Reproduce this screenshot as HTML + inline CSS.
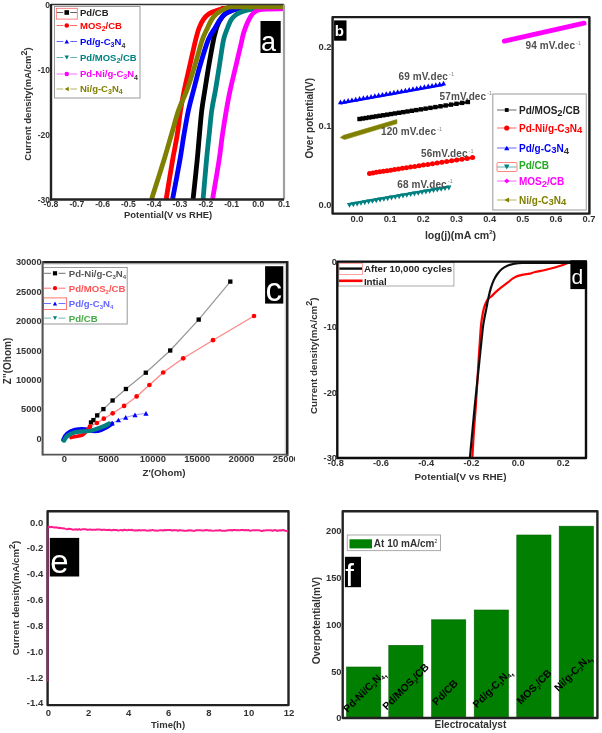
<!DOCTYPE html><html><head><meta charset="utf-8"><style>html,body{margin:0;padding:0;background:#fff;}svg{display:block}</style></head><body>
<svg width="602" height="733" viewBox="0 0 602 733" font-family="Liberation Sans">
<rect width="602" height="733" fill="#fff"/>
<defs><filter id="soft" x="0" y="0" width="100%" height="100%" filterUnits="userSpaceOnUse"><feGaussianBlur stdDeviation="0.4"/></filter></defs>
<g filter="url(#soft)">
<rect x="54.5" y="6.5" width="85.5" height="91.5" fill="#fff" stroke="#999" stroke-width="1"/>
<line x1="56.5" y1="12.5" x2="63.25" y2="12.5" stroke="#000" stroke-width="1" opacity="0.6"/>
<line x1="70.25" y1="12.5" x2="77" y2="12.5" stroke="#000" stroke-width="1" opacity="0.6"/>
<rect x="64.45" y="10.20" width="4.6" height="4.6" fill="#000"/>
<text x="80" y="15.92" font-size="9.5" font-weight="bold" fill="#222">Pd/CB</text>
<line x1="56.5" y1="25.5" x2="63.25" y2="25.5" stroke="#f00" stroke-width="1" opacity="0.6"/>
<line x1="70.25" y1="25.5" x2="77" y2="25.5" stroke="#f00" stroke-width="1" opacity="0.6"/>
<circle cx="66.75" cy="25.50" r="2.3" fill="#f00"/>
<text x="80" y="28.92" font-size="9.5" font-weight="bold" fill="#f00">MOS<tspan dy="2" font-size="7">2</tspan><tspan dy="-2">/CB</tspan></text>
<line x1="56.5" y1="41.5" x2="63.25" y2="41.5" stroke="#00f" stroke-width="1" opacity="0.6"/>
<line x1="70.25" y1="41.5" x2="77" y2="41.5" stroke="#00f" stroke-width="1" opacity="0.6"/>
<path d="M64.45 43.57L69.05 43.57L66.75 39.43Z" fill="#00f"/>
<text x="80" y="44.92" font-size="9.5" font-weight="bold" fill="#00f">Pd/g-C<tspan dy="2" font-size="7">3</tspan><tspan dy="-2">N</tspan><tspan dy="3" font-size="7" fill="#333">4</tspan></text>
<line x1="56.5" y1="57.5" x2="63.25" y2="57.5" stroke="#008080" stroke-width="1" opacity="0.6"/>
<line x1="70.25" y1="57.5" x2="77" y2="57.5" stroke="#008080" stroke-width="1" opacity="0.6"/>
<path d="M64.45 55.43L69.05 55.43L66.75 59.57Z" fill="#008080"/>
<text x="80" y="60.92" font-size="9.5" font-weight="bold" fill="#008080">Pd/MOS<tspan dy="2" font-size="7">2</tspan><tspan dy="-2">/CB</tspan></text>
<line x1="56.5" y1="74" x2="63.25" y2="74" stroke="#f0f" stroke-width="1" opacity="0.6"/>
<line x1="70.25" y1="74" x2="77" y2="74" stroke="#f0f" stroke-width="1" opacity="0.6"/>
<circle cx="66.75" cy="74.00" r="2.3" fill="#f0f"/>
<text x="80" y="77.42" font-size="9.5" font-weight="bold" fill="#f0f">Pd-Ni/g-C<tspan dy="2" font-size="7">3</tspan><tspan dy="-2">N</tspan><tspan dy="3" font-size="7" fill="#333">4</tspan></text>
<line x1="56.5" y1="89" x2="63.25" y2="89" stroke="#808000" stroke-width="1" opacity="0.6"/>
<line x1="70.25" y1="89" x2="77" y2="89" stroke="#808000" stroke-width="1" opacity="0.6"/>
<path d="M68.82 86.70L68.82 91.30L64.68 89.00Z" fill="#808000"/>
<text x="80" y="92.42" font-size="9.5" font-weight="bold" fill="#808000">Ni/g-C<tspan dy="2" font-size="7">3</tspan><tspan dy="-2">N<tspan dy="2" font-size="7">4</tspan><tspan dy="-2"></tspan></tspan></text>
<rect x="56.3" y="8.3" width="21" height="10.8" fill="none" stroke="#f66" stroke-width="0.8"/>
<path d="M284.00 8.50 C277.50 8.55 252.78 8.68 245.00 8.80 C237.22 8.92 239.48 8.90 237.30 9.20 C235.12 9.50 233.90 9.82 231.90 10.60 C229.90 11.38 227.23 12.38 225.30 13.90 C223.37 15.42 221.72 17.52 220.30 19.70 C218.88 21.88 217.58 25.03 216.80 27.00 C216.02 28.97 216.15 29.33 215.60 31.50 C215.05 33.67 214.62 34.42 213.50 40.00 C212.38 45.58 210.33 56.67 208.90 65.00 C207.47 73.33 206.08 82.50 204.90 90.00 C203.72 97.50 202.72 102.50 201.80 110.00 C200.88 117.50 200.17 126.67 199.40 135.00 C198.63 143.33 198.25 149.33 197.20 160.00 C196.15 170.67 193.78 192.50 193.10 199.00" fill="none" stroke="#000" stroke-width="4.8" stroke-linejoin="round"/>
<path d="M284.00 8.00 C274.67 8.03 238.27 8.07 228.00 8.20 C217.73 8.33 224.30 8.42 222.40 8.80 C220.50 9.18 218.83 9.67 216.60 10.50 C214.37 11.33 211.22 12.28 209.00 13.80 C206.78 15.32 204.95 17.23 203.30 19.60 C201.65 21.97 200.38 24.60 199.10 28.00 C197.82 31.40 197.13 33.83 195.60 40.00 C194.07 46.17 191.78 56.67 189.90 65.00 C188.02 73.33 185.85 82.50 184.30 90.00 C182.75 97.50 181.78 102.50 180.60 110.00 C179.42 117.50 178.53 126.67 177.20 135.00 C175.87 143.33 174.43 149.33 172.60 160.00 C170.77 170.67 167.27 192.50 166.20 199.00" fill="none" stroke="#f00" stroke-width="4.8" stroke-linejoin="round"/>
<path d="M284.00 8.50 C277.00 8.53 249.83 8.62 242.00 8.70 C234.17 8.78 238.73 8.70 237.00 9.00 C235.27 9.30 233.60 9.70 231.60 10.50 C229.60 11.30 226.93 12.28 225.00 13.80 C223.07 15.32 221.67 17.23 220.00 19.60 C218.33 21.97 216.97 24.60 215.00 28.00 C213.03 31.40 210.67 33.83 208.20 40.00 C205.73 46.17 202.63 56.67 200.20 65.00 C197.77 73.33 195.55 82.50 193.60 90.00 C191.65 97.50 190.12 102.50 188.50 110.00 C186.88 117.50 185.33 126.67 183.90 135.00 C182.47 143.33 181.78 149.33 179.90 160.00 C178.02 170.67 173.82 192.50 172.60 199.00" fill="none" stroke="#00f" stroke-width="4.8" stroke-linejoin="round"/>
<path d="M284.00 8.50 C280.00 8.53 265.17 8.58 260.00 8.70 C254.83 8.82 255.33 8.90 253.00 9.20 C250.67 9.50 248.17 9.95 246.00 10.50 C243.83 11.05 241.83 11.67 240.00 12.50 C238.17 13.33 236.50 14.25 235.00 15.50 C233.50 16.75 232.25 17.92 231.00 20.00 C229.75 22.08 228.75 24.67 227.50 28.00 C226.25 31.33 224.83 33.83 223.50 40.00 C222.17 46.17 220.83 56.67 219.50 65.00 C218.17 73.33 216.78 82.50 215.50 90.00 C214.22 97.50 212.87 102.50 211.80 110.00 C210.73 117.50 209.98 126.67 209.10 135.00 C208.22 143.33 207.50 149.33 206.50 160.00 C205.50 170.67 203.67 192.50 203.10 199.00" fill="none" stroke="#008080" stroke-width="4.8" stroke-linejoin="round"/>
<path d="M284.00 8.70 C281.00 8.75 270.25 8.78 266.00 9.00 C261.75 9.22 260.50 9.42 258.50 10.00 C256.50 10.58 255.28 11.45 254.00 12.50 C252.72 13.55 251.92 14.55 250.80 16.30 C249.68 18.05 248.50 20.22 247.30 23.00 C246.10 25.78 244.57 29.83 243.60 33.00 C242.63 36.17 242.75 36.67 241.50 42.00 C240.25 47.33 237.98 57.00 236.10 65.00 C234.22 73.00 231.82 82.50 230.20 90.00 C228.58 97.50 227.70 102.50 226.40 110.00 C225.10 117.50 223.62 126.67 222.40 135.00 C221.18 143.33 220.73 149.33 219.10 160.00 C217.47 170.67 213.68 192.50 212.60 199.00" fill="none" stroke="#f0f" stroke-width="4.8" stroke-linejoin="round"/>
<path d="M284.00 6.80 C275.67 6.80 243.17 6.77 234.00 6.80 C224.83 6.83 230.93 6.47 229.00 7.00 C227.07 7.53 224.47 8.87 222.40 10.00 C220.33 11.13 218.40 12.20 216.60 13.80 C214.80 15.40 213.12 17.23 211.60 19.60 C210.08 21.97 209.07 24.60 207.50 28.00 C205.93 31.40 204.28 33.83 202.20 40.00 C200.12 46.17 197.53 56.67 195.00 65.00 C192.47 73.33 189.73 82.50 187.00 90.00 C184.27 97.50 181.22 102.50 178.60 110.00 C175.98 117.50 173.73 126.67 171.30 135.00 C168.87 143.33 167.28 149.33 164.00 160.00 C160.72 170.67 153.67 192.50 151.60 199.00" fill="none" stroke="#808000" stroke-width="4.8" stroke-linejoin="round"/>
<line x1="51" y1="4.5" x2="284" y2="4.5" stroke="#333" stroke-width="1.6"/>
<line x1="284" y1="4.5" x2="284" y2="199.5" stroke="#a0a0a0" stroke-width="2.2"/>
<line x1="51" y1="4" x2="51" y2="200.5" stroke="#222" stroke-width="2.4"/>
<line x1="50" y1="199.5" x2="284" y2="199.5" stroke="#222" stroke-width="2.4"/>
<rect x="260.5" y="21" width="20.19999999999999" height="32" fill="#000"/>
<text x="261.0" y="51.0" font-size="27" font-weight="normal" fill="#fff" font-family="Liberation Sans">a</text>
<text x="51.0" y="207.3" font-size="8.6" font-weight="bold" fill="#333" text-anchor="middle" >-0.8</text>
<text x="76.8" y="207.3" font-size="8.6" font-weight="bold" fill="#333" text-anchor="middle" >-0.7</text>
<text x="102.6" y="207.3" font-size="8.6" font-weight="bold" fill="#333" text-anchor="middle" >-0.6</text>
<text x="128.4" y="207.3" font-size="8.6" font-weight="bold" fill="#333" text-anchor="middle" >-0.5</text>
<text x="154.2" y="207.3" font-size="8.6" font-weight="bold" fill="#333" text-anchor="middle" >-0.4</text>
<text x="180.0" y="207.3" font-size="8.6" font-weight="bold" fill="#333" text-anchor="middle" >-0.3</text>
<text x="205.8" y="207.3" font-size="8.6" font-weight="bold" fill="#333" text-anchor="middle" >-0.2</text>
<text x="231.6" y="207.3" font-size="8.6" font-weight="bold" fill="#333" text-anchor="middle" >-0.1</text>
<text x="258.2" y="207.3" font-size="8.6" font-weight="bold" fill="#333" text-anchor="middle" >0.0</text>
<text x="284.00000000000006" y="207.3" font-size="8.6" font-weight="bold" fill="#333" text-anchor="middle" >0.1</text>
<text x="50" y="7.5" font-size="8.5" font-weight="bold" fill="#333" text-anchor="end" >0</text>
<text x="50" y="72.5" font-size="8.5" font-weight="bold" fill="#333" text-anchor="end" >-10</text>
<text x="50" y="137.5" font-size="8.5" font-weight="bold" fill="#333" text-anchor="end" >-20</text>
<text x="50" y="202.5" font-size="8.5" font-weight="bold" fill="#333" text-anchor="end" >-30</text>
<text x="168.1" y="217.6" font-size="9.45" font-weight="bold" fill="#333" text-anchor="middle" >Potential(V vs RHE)</text>
<text x="0" y="0" font-size="9.5" font-weight="bold" fill="#333" text-anchor="middle" transform="translate(31.3 104) rotate(-90)">Current density(mA/cm<tspan dy="-4.5" font-size="9">2</tspan><tspan dy="4.5">)</tspan></text>
<path d="M504.3 41.1 L584.1 23.2" stroke="#f0f" stroke-width="4.8" stroke-linecap="round"/>
<path d="M340.5 103.4 L443.5 84.8" stroke="#00f" stroke-width="2.2"/>
<path d="M337.90 104.14L343.10 104.14L340.50 99.46Z" fill="#00f"/><path d="M341.71 103.45L346.91 103.45L344.31 98.77Z" fill="#00f"/><path d="M345.53 102.76L350.73 102.76L348.13 98.08Z" fill="#00f"/><path d="M349.34 102.07L354.54 102.07L351.94 97.39Z" fill="#00f"/><path d="M353.16 101.38L358.36 101.38L355.76 96.70Z" fill="#00f"/><path d="M356.97 100.70L362.17 100.70L359.57 96.02Z" fill="#00f"/><path d="M360.79 100.01L365.99 100.01L363.39 95.33Z" fill="#00f"/><path d="M364.60 99.32L369.80 99.32L367.20 94.64Z" fill="#00f"/><path d="M368.42 98.63L373.62 98.63L371.02 93.95Z" fill="#00f"/><path d="M372.23 97.94L377.43 97.94L374.83 93.26Z" fill="#00f"/><path d="M376.05 97.25L381.25 97.25L378.65 92.57Z" fill="#00f"/><path d="M379.86 96.56L385.06 96.56L382.46 91.88Z" fill="#00f"/><path d="M383.68 95.87L388.88 95.87L386.28 91.19Z" fill="#00f"/><path d="M387.49 95.18L392.69 95.18L390.09 90.50Z" fill="#00f"/><path d="M391.31 94.50L396.51 94.50L393.91 89.82Z" fill="#00f"/><path d="M395.12 93.81L400.32 93.81L397.72 89.13Z" fill="#00f"/><path d="M398.94 93.12L404.14 93.12L401.54 88.44Z" fill="#00f"/><path d="M402.75 92.43L407.95 92.43L405.35 87.75Z" fill="#00f"/><path d="M406.57 91.74L411.77 91.74L409.17 87.06Z" fill="#00f"/><path d="M410.38 91.05L415.58 91.05L412.98 86.37Z" fill="#00f"/><path d="M414.20 90.36L419.40 90.36L416.80 85.68Z" fill="#00f"/><path d="M418.01 89.67L423.21 89.67L420.61 84.99Z" fill="#00f"/><path d="M421.83 88.98L427.03 88.98L424.43 84.30Z" fill="#00f"/><path d="M425.64 88.30L430.84 88.30L428.24 83.62Z" fill="#00f"/><path d="M429.46 87.61L434.66 87.61L432.06 82.93Z" fill="#00f"/><path d="M433.27 86.92L438.47 86.92L435.87 82.24Z" fill="#00f"/><path d="M437.09 86.23L442.29 86.23L439.69 81.55Z" fill="#00f"/><path d="M440.90 85.54L446.10 85.54L443.50 80.86Z" fill="#00f"/>
<path d="M358.7 119.3 L469.5 101.9" stroke="#000" stroke-width="2.4"/>
<rect x="357.30" y="116.80" width="4.4" height="4.4" fill="#000"/><rect x="360.46" y="116.30" width="4.4" height="4.4" fill="#000"/><rect x="363.70" y="115.79" width="4.4" height="4.4" fill="#000"/><rect x="367.03" y="115.27" width="4.4" height="4.4" fill="#000"/><rect x="370.43" y="114.74" width="4.4" height="4.4" fill="#000"/><rect x="373.93" y="114.19" width="4.4" height="4.4" fill="#000"/><rect x="377.51" y="113.63" width="4.4" height="4.4" fill="#000"/><rect x="381.18" y="113.05" width="4.4" height="4.4" fill="#000"/><rect x="384.94" y="112.46" width="4.4" height="4.4" fill="#000"/><rect x="388.80" y="111.85" width="4.4" height="4.4" fill="#000"/><rect x="392.76" y="111.23" width="4.4" height="4.4" fill="#000"/><rect x="396.82" y="110.59" width="4.4" height="4.4" fill="#000"/><rect x="400.98" y="109.94" width="4.4" height="4.4" fill="#000"/><rect x="405.24" y="109.27" width="4.4" height="4.4" fill="#000"/><rect x="409.61" y="108.58" width="4.4" height="4.4" fill="#000"/><rect x="414.09" y="107.88" width="4.4" height="4.4" fill="#000"/><rect x="418.69" y="107.16" width="4.4" height="4.4" fill="#000"/><rect x="423.40" y="106.42" width="4.4" height="4.4" fill="#000"/><rect x="428.23" y="105.66" width="4.4" height="4.4" fill="#000"/><rect x="433.19" y="104.88" width="4.4" height="4.4" fill="#000"/><rect x="438.27" y="104.08" width="4.4" height="4.4" fill="#000"/><rect x="443.47" y="103.26" width="4.4" height="4.4" fill="#000"/><rect x="448.81" y="102.43" width="4.4" height="4.4" fill="#000"/><rect x="454.28" y="101.57" width="4.4" height="4.4" fill="#000"/><rect x="459.89" y="100.68" width="4.4" height="4.4" fill="#000"/><rect x="465.65" y="99.78" width="4.4" height="4.4" fill="#000"/>
<path d="M340.3 137.6 L343.5 135.3 L396.8 119.6 L397 123.6 L344.5 139.6 Z" fill="#808000" stroke="#808000" stroke-width="0.6" stroke-linejoin="round"/>
<path d="M369.5 173.4 L475 157.2" stroke="#f00" stroke-width="2.4"/>
<circle cx="369.50" cy="173.40" r="2.5" fill="#f00"/><circle cx="372.86" cy="172.88" r="2.5" fill="#f00"/><circle cx="376.29" cy="172.36" r="2.5" fill="#f00"/><circle cx="379.79" cy="171.82" r="2.5" fill="#f00"/><circle cx="383.36" cy="171.27" r="2.5" fill="#f00"/><circle cx="387.01" cy="170.71" r="2.5" fill="#f00"/><circle cx="390.73" cy="170.14" r="2.5" fill="#f00"/><circle cx="394.53" cy="169.56" r="2.5" fill="#f00"/><circle cx="398.41" cy="168.96" r="2.5" fill="#f00"/><circle cx="402.36" cy="168.35" r="2.5" fill="#f00"/><circle cx="406.40" cy="167.73" r="2.5" fill="#f00"/><circle cx="410.52" cy="167.10" r="2.5" fill="#f00"/><circle cx="414.73" cy="166.46" r="2.5" fill="#f00"/><circle cx="419.02" cy="165.80" r="2.5" fill="#f00"/><circle cx="423.40" cy="165.12" r="2.5" fill="#f00"/><circle cx="427.87" cy="164.44" r="2.5" fill="#f00"/><circle cx="432.44" cy="163.74" r="2.5" fill="#f00"/><circle cx="437.10" cy="163.02" r="2.5" fill="#f00"/><circle cx="441.85" cy="162.29" r="2.5" fill="#f00"/><circle cx="446.70" cy="161.55" r="2.5" fill="#f00"/><circle cx="451.65" cy="160.79" r="2.5" fill="#f00"/><circle cx="456.71" cy="160.01" r="2.5" fill="#f00"/><circle cx="461.87" cy="159.22" r="2.5" fill="#f00"/><circle cx="467.13" cy="158.41" r="2.5" fill="#f00"/><circle cx="472.50" cy="157.58" r="2.5" fill="#f00"/>
<path d="M349.5 203.8 L448.8 186.6" stroke="#008080" stroke-width="2.2"/>
<path d="M346.80 202.97L352.20 202.97L349.50 207.83Z" fill="#008080"/><path d="M350.62 202.30L356.02 202.30L353.32 207.16Z" fill="#008080"/><path d="M354.44 201.63L359.84 201.63L357.14 206.49Z" fill="#008080"/><path d="M358.26 200.96L363.66 200.96L360.96 205.82Z" fill="#008080"/><path d="M362.08 200.29L367.48 200.29L364.78 205.15Z" fill="#008080"/><path d="M365.90 199.62L371.30 199.62L368.60 204.48Z" fill="#008080"/><path d="M369.72 198.95L375.12 198.95L372.42 203.81Z" fill="#008080"/><path d="M373.53 198.29L378.93 198.29L376.23 203.15Z" fill="#008080"/><path d="M377.35 197.62L382.75 197.62L380.05 202.48Z" fill="#008080"/><path d="M381.17 196.95L386.57 196.95L383.87 201.81Z" fill="#008080"/><path d="M384.99 196.28L390.39 196.28L387.69 201.14Z" fill="#008080"/><path d="M388.81 195.61L394.21 195.61L391.51 200.47Z" fill="#008080"/><path d="M392.63 194.94L398.03 194.94L395.33 199.80Z" fill="#008080"/><path d="M396.45 194.27L401.85 194.27L399.15 199.13Z" fill="#008080"/><path d="M400.27 193.60L405.67 193.60L402.97 198.46Z" fill="#008080"/><path d="M404.09 192.93L409.49 192.93L406.79 197.79Z" fill="#008080"/><path d="M407.91 192.26L413.31 192.26L410.61 197.12Z" fill="#008080"/><path d="M411.73 191.59L417.13 191.59L414.43 196.45Z" fill="#008080"/><path d="M415.55 190.92L420.95 190.92L418.25 195.78Z" fill="#008080"/><path d="M419.37 190.25L424.77 190.25L422.07 195.11Z" fill="#008080"/><path d="M423.18 189.59L428.58 189.59L425.88 194.45Z" fill="#008080"/><path d="M427.00 188.92L432.40 188.92L429.70 193.78Z" fill="#008080"/><path d="M430.82 188.25L436.22 188.25L433.52 193.11Z" fill="#008080"/><path d="M434.64 187.58L440.04 187.58L437.34 192.44Z" fill="#008080"/><path d="M438.46 186.91L443.86 186.91L441.16 191.77Z" fill="#008080"/><path d="M442.28 186.24L447.68 186.24L444.98 191.10Z" fill="#008080"/><path d="M446.10 185.57L451.50 185.57L448.80 190.43Z" fill="#008080"/>
<text x="525.6" y="49.2" font-size="10" font-weight="bold" fill="#505050" letter-spacing="0.1">94 mV.dec<tspan dx="1" dy="-4.5" font-size="5.5" font-weight="normal" fill="#888">-1</tspan></text>
<text x="398.5" y="80.0" font-size="10" font-weight="bold" fill="#505050" letter-spacing="0.1">69 mV.dec<tspan dx="1" dy="-4.5" font-size="5.5" font-weight="normal" fill="#888">-1</tspan></text>
<text x="439.6" y="99.5" font-size="10" font-weight="bold" fill="#505050" letter-spacing="0.1">57mV.dec<tspan dx="1" dy="-4.5" font-size="5.5" font-weight="normal" fill="#888">-1</tspan></text>
<text x="381" y="135.0" font-size="10" font-weight="bold" fill="#505050" letter-spacing="0.1">120 mV.dec<tspan dx="1" dy="-4.5" font-size="5.5" font-weight="normal" fill="#888">-1</tspan></text>
<text x="421" y="157.0" font-size="10" font-weight="bold" fill="#505050" letter-spacing="0.1">56mV.dec<tspan dx="1" dy="-4.5" font-size="5.5" font-weight="normal" fill="#888">-1</tspan></text>
<text x="397.3" y="187.5" font-size="10" font-weight="bold" fill="#505050" letter-spacing="0.1">68 mV.dec<tspan dx="1" dy="-4.5" font-size="5.5" font-weight="normal" fill="#888">-1</tspan></text>
<rect x="492.8" y="94" width="93.5" height="116" fill="#fff" stroke="#aaa" stroke-width="1.2"/>
<line x1="497" y1="110" x2="516.5" y2="110" stroke="#000" stroke-width="1" opacity="0.6"/>
<rect x="504.85" y="108.10" width="3.8" height="3.8" fill="#000"/>
<text x="519" y="113.60" font-size="10" font-weight="bold" fill="#222">Pd/MOS<tspan dy="2.5" font-size="9.5">2</tspan><tspan dy="-2.5">/CB</tspan></text>
<line x1="497" y1="128" x2="516.5" y2="128" stroke="#f00" stroke-width="1" opacity="0.6"/>
<circle cx="506.75" cy="128.00" r="2.6" fill="#f00"/>
<text x="519" y="131.60" font-size="10" font-weight="bold" fill="#f00">Pd-Ni/g-C<tspan dy="1.5" font-size="9.5">3</tspan><tspan dy="-1.5">N<tspan dy="1.5" font-size="9.5">4</tspan><tspan dy="-1.5"></tspan></tspan></text>
<line x1="497" y1="148" x2="516.5" y2="148" stroke="#00f" stroke-width="1" opacity="0.6"/>
<path d="M504.15 150.34L509.35 150.34L506.75 145.66Z" fill="#00f"/>
<text x="519" y="151.60" font-size="10" font-weight="bold" fill="#00f">Pd/g-C<tspan dy="1.5" font-size="9.5">3</tspan><tspan dy="-1.5">N</tspan><tspan dy="2.5" font-size="9.5" fill="#333">4</tspan></text>
<line x1="497" y1="167" x2="516.5" y2="167" stroke="#008080" stroke-width="1" opacity="0.6"/>
<path d="M504.00 164.53L509.50 164.53L506.75 169.47Z" fill="#008080"/>
<text x="519" y="170.60" font-size="10" font-weight="bold" fill="#2a2"></text>
<text x="519" y="169" font-size="10" font-weight="bold" fill="#2a2">Pd/CB</text>
<line x1="497" y1="181" x2="516.5" y2="181" stroke="#f0f" stroke-width="1" opacity="0.6"/>
<path d="M504.15 181.00L506.75 178.40L509.35 181.00L506.75 183.60Z" fill="#f0f"/>
<text x="519" y="184.60" font-size="10" font-weight="bold" fill="#f0f">MOS<tspan dy="2.5" font-size="9.5">2</tspan><tspan dy="-2.5">/CB</tspan></text>
<line x1="497" y1="200" x2="516.5" y2="200" stroke="#808000" stroke-width="1" opacity="0.6"/>
<path d="M509.09 197.40L509.09 202.60L504.41 200.00Z" fill="#808000"/>
<text x="519" y="203.60" font-size="10" font-weight="bold" fill="#808000">Ni/g-C<tspan dy="1.5" font-size="9.5">3</tspan><tspan dy="-1.5">N<tspan dy="1.5" font-size="9.5">4</tspan><tspan dy="-1.5"></tspan></tspan></text>
<rect x="497" y="162.5" width="20" height="9" fill="none" stroke="#f77" stroke-width="0.9" rx="1"/>
<rect x="332.6" y="17.1" width="256.79999999999995" height="196.5" fill="none" stroke="#1a1a1a" stroke-width="2.4" stroke-linejoin="round"/>
<rect x="334.1" y="20.4" width="12.399999999999977" height="20.300000000000004" fill="#000"/>
<text x="334.8" y="35.7" font-size="15" font-weight="bold" fill="#fff" font-family="Liberation Sans">b</text>
<text x="357.0" y="222" font-size="9.3" font-weight="bold" fill="#333" text-anchor="middle" >0.0</text>
<text x="390.15" y="222" font-size="9.3" font-weight="bold" fill="#333" text-anchor="middle" >0.1</text>
<text x="423.3" y="222" font-size="9.3" font-weight="bold" fill="#333" text-anchor="middle" >0.2</text>
<text x="456.45" y="222" font-size="9.3" font-weight="bold" fill="#333" text-anchor="middle" >0.3</text>
<text x="489.6" y="222" font-size="9.3" font-weight="bold" fill="#333" text-anchor="middle" >0.4</text>
<text x="522.75" y="222" font-size="9.3" font-weight="bold" fill="#333" text-anchor="middle" >0.5</text>
<text x="555.9" y="222" font-size="9.3" font-weight="bold" fill="#333" text-anchor="middle" >0.6</text>
<text x="589.05" y="222" font-size="9.3" font-weight="bold" fill="#333" text-anchor="middle" >0.7</text>
<text x="331.5" y="208.1" font-size="9.4" font-weight="bold" fill="#333" text-anchor="end" >0.0</text>
<text x="331.5" y="129.1" font-size="9.4" font-weight="bold" fill="#333" text-anchor="end" >0.1</text>
<text x="331.5" y="50.1" font-size="9.4" font-weight="bold" fill="#333" text-anchor="end" >0.2</text>
<text x="460.5" y="238.6" font-size="10.6" font-weight="bold" fill="#333" text-anchor="middle">log(j)(mA cm<tspan dy="-4.5" font-size="6">2</tspan><tspan dy="4.5">)</tspan></text>
<text x="0" y="0" font-size="10" font-weight="bold" fill="#333" text-anchor="middle" transform="translate(312.5 118.2) rotate(-90)">Over potential(V)</text>
<polyline points="230.3,281.6 198.7,319.6 170.2,350.5 145.8,372.7 125.9,389 112.6,400.5 103.4,409.1 97.2,415.4 93.4,420.1 91,422.4" fill="none" stroke="#999" stroke-width="1.3"/>
<polyline points="254,316 213,340.2 183.2,358.3 163.2,372.5 149.4,385 136.6,396.4 124.1,405.9 112.7,413.3 103.8,418.7 96.9,423 90,426.5" fill="none" stroke="#f88" stroke-width="1.3"/>
<polyline points="146,413.3 135,414.9 125.7,417.4 118.4,420 112.2,423.2" fill="none" stroke="#99f" stroke-width="1"/>
<path d="M63.2 439.8 C64.8 435 68.5 431.5 75 429.8 C80 428.7 85 428.8 89 430 C93 431.5 97 431.5 101 430 C105 428.5 108.5 426.5 112 423.6" fill="none" stroke="#00f" stroke-width="4.2" stroke-linecap="round"/>
<path d="M71 437.6 C75 436.6 79 436.1 82.5 435 C85.5 433.2 88 429.5 90 426.5" fill="none" stroke="#f00" stroke-width="3.6" stroke-linecap="round"/>
<path d="M64 440.6 C65.5 436.8 69.5 433.6 76 432.2 C82 431.2 88 431.6 92 430.5 C97 429 102 427.2 105 425.8 C107 424.8 108 424.2 109 423.6" fill="none" stroke="#008080" stroke-width="4.4" stroke-linecap="round"/>
<rect x="228.15" y="279.45" width="4.3" height="4.3" fill="#000"/>
<rect x="196.55" y="317.45" width="4.3" height="4.3" fill="#000"/>
<rect x="168.05" y="348.35" width="4.3" height="4.3" fill="#000"/>
<rect x="143.65" y="370.55" width="4.3" height="4.3" fill="#000"/>
<rect x="123.75" y="386.85" width="4.3" height="4.3" fill="#000"/>
<rect x="110.45" y="398.35" width="4.3" height="4.3" fill="#000"/>
<rect x="101.25" y="406.95" width="4.3" height="4.3" fill="#000"/>
<rect x="95.05" y="413.25" width="4.3" height="4.3" fill="#000"/>
<rect x="91.25" y="417.95" width="4.3" height="4.3" fill="#000"/>
<rect x="88.85" y="420.25" width="4.3" height="4.3" fill="#000"/>
<circle cx="254.00" cy="316.00" r="2.35" fill="#f00"/>
<circle cx="213.00" cy="340.20" r="2.35" fill="#f00"/>
<circle cx="183.20" cy="358.30" r="2.35" fill="#f00"/>
<circle cx="163.20" cy="372.50" r="2.35" fill="#f00"/>
<circle cx="149.40" cy="385.00" r="2.35" fill="#f00"/>
<circle cx="136.60" cy="396.40" r="2.35" fill="#f00"/>
<circle cx="124.10" cy="405.90" r="2.35" fill="#f00"/>
<circle cx="112.70" cy="413.30" r="2.35" fill="#f00"/>
<circle cx="103.80" cy="418.70" r="2.35" fill="#f00"/>
<circle cx="96.90" cy="423.00" r="2.35" fill="#f00"/>
<circle cx="90.00" cy="426.50" r="2.35" fill="#f00"/>
<path d="M143.40 415.64L148.60 415.64L146.00 410.96Z" fill="#00f"/>
<path d="M132.40 417.24L137.60 417.24L135.00 412.56Z" fill="#00f"/>
<path d="M123.10 419.74L128.30 419.74L125.70 415.06Z" fill="#00f"/>
<path d="M115.80 422.34L121.00 422.34L118.40 417.66Z" fill="#00f"/>
<path d="M109.60 425.54L114.80 425.54L112.20 420.86Z" fill="#00f"/>
<rect x="43" y="267.5" width="84.2" height="56.5" fill="#fff" stroke="#999" stroke-width="1"/>
<line x1="44" y1="273.3" x2="51" y2="273.3" stroke="#000" stroke-width="0.8" opacity="0.7"/>
<line x1="58.5" y1="273.3" x2="65.5" y2="273.3" stroke="#000" stroke-width="0.8" opacity="0.7"/>
<rect x="52.90" y="271.20" width="4.2" height="4.2" fill="#000"/>
<text x="68.8" y="276.7" font-size="9.6" font-weight="bold" fill="#555">Pd-Ni/g-C<tspan dy="2" font-size="6">3</tspan><tspan dy="-2">N<tspan dy="2" font-size="6">4</tspan><tspan dy="-2"></tspan></tspan></text>
<line x1="44" y1="288.2" x2="51" y2="288.2" stroke="#f00" stroke-width="0.8" opacity="0.7"/>
<line x1="58.5" y1="288.2" x2="65.5" y2="288.2" stroke="#f00" stroke-width="0.8" opacity="0.7"/>
<circle cx="55.00" cy="288.20" r="2.1" fill="#f00"/>
<text x="68.8" y="291.59999999999997" font-size="9.6" font-weight="bold" fill="#f55">Pd/MOS<tspan dy="2" font-size="6">2</tspan><tspan dy="-2">/CB</tspan></text>
<line x1="44" y1="303.5" x2="51" y2="303.5" stroke="#00f" stroke-width="0.8" opacity="0.7"/>
<line x1="58.5" y1="303.5" x2="65.5" y2="303.5" stroke="#00f" stroke-width="0.8" opacity="0.7"/>
<path d="M52.90 305.39L57.10 305.39L55.00 301.61Z" fill="#00f"/>
<text x="68.8" y="306.9" font-size="9.6" font-weight="bold" fill="#66f">Pd/g-C<tspan dy="2" font-size="6">3</tspan><tspan dy="-2">N<tspan dy="2" font-size="6">4</tspan><tspan dy="-2"></tspan></tspan></text>
<line x1="44" y1="318.1" x2="51" y2="318.1" stroke="#008080" stroke-width="0.8" opacity="0.7"/>
<line x1="58.5" y1="318.1" x2="65.5" y2="318.1" stroke="#008080" stroke-width="0.8" opacity="0.7"/>
<path d="M52.90 316.21L57.10 316.21L55.00 319.99Z" fill="#008080"/>
<text x="68.8" y="321.5" font-size="9.6" font-weight="bold" fill="#4a4">Pd/CB</text>
<rect x="43.6" y="297.9" width="23" height="11.6" fill="none" stroke="#f66" stroke-width="0.9"/>
<line x1="42.7" y1="262.2" x2="286.6" y2="262.2" stroke="#222" stroke-width="2.4"/>
<line x1="287.2" y1="261" x2="287.2" y2="455.8" stroke="#222" stroke-width="2.6"/>
<line x1="285.2" y1="263.8" x2="285.2" y2="454" stroke="#bbb" stroke-width="0.8"/>
<line x1="43" y1="264.2" x2="286" y2="264.2" stroke="#ccc" stroke-width="0.8"/>
<line x1="42.7" y1="454.6" x2="287.8" y2="454.6" stroke="#555" stroke-width="1.7"/>
<line x1="42.6" y1="261" x2="42.6" y2="455.5" stroke="#555" stroke-width="2.1"/>
<rect x="265.1" y="266.2" width="18.19999999999999" height="37.400000000000034" fill="#000"/>
<text x="265.6" y="300.8" font-size="33" font-weight="normal" fill="#fff" font-family="Liberation Sans">c</text>
<clipPath id="cc"><rect x="0" y="440" width="295" height="40"/></clipPath>
<text x="285.8" y="462.2" font-size="9.4" font-weight="bold" fill="#333" text-anchor="middle" clip-path="url(#cc)">25000</text>
<text x="64.3" y="462.2" font-size="9.4" font-weight="bold" fill="#333" text-anchor="middle" >0</text>
<text x="108.6" y="462.2" font-size="9.4" font-weight="bold" fill="#333" text-anchor="middle" >5000</text>
<text x="152.89999999999998" y="462.2" font-size="9.4" font-weight="bold" fill="#333" text-anchor="middle" >10000</text>
<text x="197.2" y="462.2" font-size="9.4" font-weight="bold" fill="#333" text-anchor="middle" >15000</text>
<text x="241.5" y="462.2" font-size="9.4" font-weight="bold" fill="#333" text-anchor="middle" >20000</text>
<text x="41.5" y="441.7" font-size="9.2" font-weight="bold" fill="#333" text-anchor="end" >0</text>
<text x="41.5" y="412.3" font-size="9.2" font-weight="bold" fill="#333" text-anchor="end" >5000</text>
<text x="41.5" y="382.9" font-size="9.2" font-weight="bold" fill="#333" text-anchor="end" >10000</text>
<text x="41.5" y="353.5" font-size="9.2" font-weight="bold" fill="#333" text-anchor="end" >15000</text>
<text x="41.5" y="324.09999999999997" font-size="9.2" font-weight="bold" fill="#333" text-anchor="end" >20000</text>
<text x="41.5" y="294.7" font-size="9.2" font-weight="bold" fill="#333" text-anchor="end" >25000</text>
<text x="41.5" y="265.3" font-size="9.2" font-weight="bold" fill="#333" text-anchor="end" >30000</text>
<text x="164" y="476.3" font-size="9.8" font-weight="bold" fill="#333" text-anchor="middle" >Z'(Ohom)</text>
<text x="0" y="0" font-size="10" font-weight="bold" fill="#333" text-anchor="middle" transform="translate(11.2 361) rotate(-90)">Z''(Ohom)</text>
<path d="M472.30 458.00 C472.58 453.33 473.38 439.05 474.00 430.00 C474.62 420.95 475.28 414.53 476.00 403.70 C476.72 392.87 477.53 377.28 478.30 365.00 C479.07 352.72 479.98 337.87 480.60 330.00 C481.22 322.13 481.43 321.48 482.00 317.80 C482.57 314.12 483.10 310.88 484.00 307.90 C484.90 304.92 486.25 301.75 487.40 299.90 C488.55 298.05 489.48 298.13 490.90 296.80 C492.32 295.47 494.07 293.55 495.90 291.90 C497.73 290.25 499.90 288.48 501.90 286.90 C503.90 285.32 506.07 283.82 507.90 282.40 C509.73 280.98 511.23 279.48 512.90 278.40 C514.57 277.32 516.08 276.55 517.90 275.90 C519.72 275.25 521.82 274.88 523.80 274.50 C525.78 274.12 527.93 274.02 529.80 273.60 C531.67 273.18 532.47 272.60 535.00 272.00 C537.53 271.40 541.68 270.75 545.00 270.00 C548.32 269.25 551.92 268.33 554.90 267.50 C557.88 266.67 560.73 265.75 562.90 265.00 C565.07 264.25 566.72 263.53 567.90 263.00 C569.08 262.47 569.65 262.00 570.00 261.80" fill="none" stroke="#f00" stroke-width="2.2"/>
<path d="M469.90 458.00 C470.33 453.33 471.65 439.05 472.50 430.00 C473.35 420.95 473.92 414.53 475.00 403.70 C476.08 392.87 477.73 377.28 479.00 365.00 C480.27 352.72 481.68 337.87 482.60 330.00 C483.52 322.13 483.85 321.48 484.50 317.80 C485.15 314.12 485.85 311.22 486.50 307.90 C487.15 304.58 487.67 301.23 488.40 297.90 C489.13 294.57 489.98 290.90 490.90 287.90 C491.82 284.90 492.82 282.22 493.90 279.90 C494.98 277.58 496.07 275.82 497.40 274.00 C498.73 272.18 500.15 270.42 501.90 269.00 C503.65 267.58 505.73 266.40 507.90 265.50 C510.07 264.60 512.42 264.02 514.90 263.60 C517.38 263.18 518.62 263.13 522.80 263.00 C526.98 262.87 529.47 262.83 540.00 262.80 C550.53 262.77 578.33 262.80 586.00 262.80" fill="none" stroke="#111" stroke-width="2.2"/>
<rect x="338.6" y="262.6" width="115.3" height="23.4" fill="#fff" stroke="#aaa" stroke-width="1"/>
<line x1="339" y1="268.6" x2="362.5" y2="268.6" stroke="#111" stroke-width="2.4"/>
<rect x="339" y="263.5" width="23.5" height="11" fill="none" stroke="#f99" stroke-width="0.9"/>
<line x1="339" y1="280.8" x2="362.5" y2="280.8" stroke="#f00" stroke-width="2.6"/>
<text x="363.9" y="272.2" font-size="9.8" font-weight="bold" fill="#222" text-anchor="start" >After 10,000 cycles</text>
<text x="363.9" y="284.5" font-size="9.8" font-weight="bold" fill="#222" text-anchor="start" >Intial</text>
<rect x="337.3" y="261.6" width="248.7" height="196.39999999999998" fill="none" stroke="#111" stroke-width="2.4" stroke-linejoin="round"/>
<rect x="570.4" y="260.3" width="16.5" height="28.80000000000001" fill="#000"/>
<text x="571.5" y="284" font-size="21" font-weight="normal" fill="#fff" font-family="Liberation Sans">d</text>
<text x="335.8" y="466.3" font-size="9.3" font-weight="bold" fill="#333" text-anchor="middle" >-0.8</text>
<text x="381.0" y="466.3" font-size="9.3" font-weight="bold" fill="#333" text-anchor="middle" >-0.6</text>
<text x="426.20000000000005" y="466.3" font-size="9.3" font-weight="bold" fill="#333" text-anchor="middle" >-0.4</text>
<text x="471.40000000000003" y="466.3" font-size="9.3" font-weight="bold" fill="#333" text-anchor="middle" >-0.2</text>
<text x="518.1" y="466.3" font-size="9.3" font-weight="bold" fill="#333" text-anchor="middle" >0.0</text>
<text x="563.3" y="466.3" font-size="9.3" font-weight="bold" fill="#333" text-anchor="middle" >0.2</text>
<text x="337" y="264.90000000000003" font-size="9.3" font-weight="bold" fill="#333" text-anchor="end" >0</text>
<text x="337" y="330.40000000000003" font-size="9.3" font-weight="bold" fill="#333" text-anchor="end" >-10</text>
<text x="337" y="395.90000000000003" font-size="9.3" font-weight="bold" fill="#333" text-anchor="end" >-20</text>
<text x="337" y="461.40000000000003" font-size="9.3" font-weight="bold" fill="#333" text-anchor="end" >-30</text>
<text x="460.5" y="479.6" font-size="9.85" font-weight="bold" fill="#333" text-anchor="middle" >Potential(V vs RHE)</text>
<text x="0" y="0" font-size="9.8" font-weight="bold" fill="#333" text-anchor="middle" transform="translate(316.8 355.7) rotate(-90)">Current density(mA/cm<tspan dy="-4.5" font-size="9">2</tspan><tspan dy="4.5">)</tspan></text>
<rect x="47.6" y="511.2" width="240.9" height="193.90000000000003" fill="none" stroke="#222" stroke-width="2.4" stroke-linejoin="round"/>
<line x1="47.6" y1="527.4" x2="47.6" y2="682" stroke="#7e3262" stroke-width="2.4"/>
<polyline points="47.6,526.84 49.1,526.75 50.6,527.27 52.1,526.83 53.6,527.42 55.1,527.44 56.6,527.34 58.1,527.92 59.6,527.71 61.1,528.28 62.6,528.16 64.1,528.39 65.6,528.90 67.1,529.34 68.6,528.76 70.1,528.90 71.6,529.32 73.1,529.66 74.6,529.38 76.1,529.27 77.6,529.84 79.1,529.06 80.6,529.83 82.1,529.35 83.6,529.25 85.1,529.25 86.6,529.45 88.1,529.93 89.6,529.39 91.1,529.78 92.6,529.86 94.1,529.64 95.6,529.83 97.1,529.42 98.6,529.44 100.1,529.60 101.6,530.06 103.1,529.86 104.6,529.78 106.1,530.06 107.6,529.96 109.1,529.83 110.6,530.29 112.1,530.21 113.6,529.81 115.1,530.11 116.6,530.08 118.1,530.40 119.6,530.28 121.1,529.89 122.6,530.53 124.1,529.76 125.6,530.04 127.1,530.35 128.6,529.82 130.1,530.13 131.6,529.73 133.1,530.31 134.6,530.41 136.1,530.24 137.6,530.52 139.1,530.03 140.6,530.38 142.1,530.30 143.6,530.30 145.1,530.20 146.6,530.55 148.1,530.65 149.6,530.24 151.1,530.42 152.6,529.89 154.1,530.48 155.6,530.44 157.1,530.76 158.6,530.62 160.1,530.14 161.6,530.24 163.1,530.51 164.6,529.94 166.1,530.34 167.6,530.09 169.1,530.05 170.6,530.01 172.1,530.65 173.6,530.08 175.1,530.19 176.6,530.32 178.1,530.76 179.6,530.06 181.1,530.39 182.6,530.49 184.1,530.79 185.6,530.74 187.1,530.79 188.6,530.26 190.1,530.39 191.6,530.35 193.1,530.82 194.6,530.89 196.1,530.17 197.6,530.20 199.1,530.26 200.6,530.26 202.1,530.48 203.6,530.57 205.1,530.27 206.6,530.03 208.1,530.40 209.6,530.35 211.1,530.52 212.6,530.87 214.1,530.62 215.6,530.46 217.1,530.55 218.6,530.60 220.1,530.03 221.6,530.79 223.1,530.67 224.6,530.76 226.1,530.68 227.6,530.31 229.1,530.31 230.6,530.05 232.1,530.53 233.6,530.02 235.1,530.03 236.6,530.16 238.1,530.12 239.6,530.29 241.1,530.03 242.6,529.99 244.1,530.13 245.6,530.09 247.1,530.33 248.6,530.03 250.1,530.80 251.6,530.57 253.1,530.16 254.6,530.26 256.1,530.35 257.6,530.37 259.1,530.16 260.6,530.81 262.1,530.94 263.6,530.47 265.1,530.49 266.6,530.13 268.1,530.14 269.6,530.36 271.1,530.29 272.6,530.80 274.1,530.20 275.6,530.07 277.1,530.91 278.6,530.53 280.1,530.18 281.6,530.54 283.1,530.07 284.6,530.53 286.1,530.93 287.6,530.83 288.0,530.50" fill="none" stroke="#ff1e8c" stroke-width="2" stroke-linejoin="round"/>
<rect x="49.8" y="537.9" width="29.400000000000006" height="38.60000000000002" fill="#000"/>
<text x="50.3" y="573" font-size="33" font-weight="normal" fill="#fff" font-family="Liberation Sans">e</text>
<text x="48.5" y="715.5" font-size="9.5" font-weight="bold" fill="#333" text-anchor="middle" >0</text>
<text x="88.58" y="715.5" font-size="9.5" font-weight="bold" fill="#333" text-anchor="middle" >2</text>
<text x="128.66" y="715.5" font-size="9.5" font-weight="bold" fill="#333" text-anchor="middle" >4</text>
<text x="168.74" y="715.5" font-size="9.5" font-weight="bold" fill="#333" text-anchor="middle" >6</text>
<text x="208.82" y="715.5" font-size="9.5" font-weight="bold" fill="#333" text-anchor="middle" >8</text>
<text x="248.89999999999998" y="715.5" font-size="9.5" font-weight="bold" fill="#333" text-anchor="middle" >10</text>
<text x="288.98" y="715.5" font-size="9.5" font-weight="bold" fill="#333" text-anchor="middle" >12</text>
<text x="43.2" y="525.5" font-size="9.5" font-weight="bold" fill="#333" text-anchor="end" >0.0</text>
<text x="43.2" y="551.35" font-size="9.5" font-weight="bold" fill="#333" text-anchor="end" >-0.2</text>
<text x="43.2" y="577.2" font-size="9.5" font-weight="bold" fill="#333" text-anchor="end" >-0.4</text>
<text x="43.2" y="603.05" font-size="9.5" font-weight="bold" fill="#333" text-anchor="end" >-0.6</text>
<text x="43.2" y="628.9" font-size="9.5" font-weight="bold" fill="#333" text-anchor="end" >-0.8</text>
<text x="43.2" y="654.75" font-size="9.5" font-weight="bold" fill="#333" text-anchor="end" >-1.0</text>
<text x="43.2" y="680.6" font-size="9.5" font-weight="bold" fill="#333" text-anchor="end" >-1.2</text>
<text x="43.2" y="706.45" font-size="9.5" font-weight="bold" fill="#333" text-anchor="end" >-1.4</text>
<text x="168" y="727.8" font-size="9.5" font-weight="bold" fill="#333" text-anchor="middle" >Time(h)</text>
<text x="0" y="0" font-size="9.6" font-weight="bold" fill="#333" text-anchor="middle" transform="translate(19.3 598) rotate(-90)">Current density(mA/cm<tspan dy="-4.5" font-size="9">2</tspan><tspan dy="4.5">)</tspan></text>
<rect x="346.6" y="667" width="34.2" height="51" fill="#007f00" stroke="#006400" stroke-width="0.6"/>
<rect x="388.8" y="645.3" width="34.2" height="72.70000000000005" fill="#007f00" stroke="#006400" stroke-width="0.6"/>
<rect x="431.6" y="619.8" width="34.2" height="98.20000000000005" fill="#007f00" stroke="#006400" stroke-width="0.6"/>
<rect x="474.2" y="610" width="34.2" height="108" fill="#007f00" stroke="#006400" stroke-width="0.6"/>
<rect x="516.8" y="535" width="34.2" height="183" fill="#007f00" stroke="#006400" stroke-width="0.6"/>
<rect x="559.2" y="526.2" width="34.2" height="191.79999999999995" fill="#007f00" stroke="#006400" stroke-width="0.6"/>
<g id="barlabels">
<text x="0" y="0" font-size="10.4" font-weight="bold" fill="#000" transform="translate(347.5 713) rotate(-45)">Pd-Ni/C<tspan dy="2" font-size="6">3</tspan><tspan dy="-2">N<tspan dy="2" font-size="6">4</tspan><tspan dy="-2"></tspan></tspan>,</text>
<text x="0" y="0" font-size="10.4" font-weight="bold" fill="#000" transform="translate(386.8 710.5) rotate(-45)">Pd/MOS<tspan dy="2" font-size="5">2</tspan><tspan dy="-2">/CB</tspan></text>
<text x="0" y="0" font-size="10.4" font-weight="bold" fill="#000" transform="translate(436.5 706) rotate(-45)">Pd/CB</text>
<text x="0" y="0" font-size="10.4" font-weight="bold" fill="#000" transform="translate(477 708.5) rotate(-45)">Pd/g-C<tspan dy="2" font-size="6">3</tspan><tspan dy="-2">N<tspan dy="2" font-size="6">4</tspan><tspan dy="-2"></tspan></tspan>,</text>
<text x="0" y="0" font-size="10.4" font-weight="bold" fill="#000" transform="translate(521 705) rotate(-45)">MOS<tspan dy="2" font-size="5">2</tspan><tspan dy="-2">/CB</tspan></text>
<text x="0" y="0" font-size="10.4" font-weight="bold" fill="#000" transform="translate(558.5 692) rotate(-45)">Ni/g-C<tspan dy="2" font-size="6">3</tspan><tspan dy="-2">N<tspan dy="2" font-size="6">4</tspan><tspan dy="-2"></tspan></tspan>,</text>
</g>
<rect x="347.3" y="535" width="93.2" height="15.6" fill="#fff" stroke="#aaa" stroke-width="1"/>
<rect x="349.5" y="539.3" width="22.5" height="9.1" fill="#007f00"/>
<text x="373.8" y="547" font-size="10" font-weight="bold" fill="#333">At 10 mA/cm<tspan dy="-4.5" font-size="5" font-weight="normal">2</tspan></text>
<rect x="342.7" y="511.2" width="254.7" height="206.8" fill="none" stroke="#222" stroke-width="2.4" stroke-linejoin="round"/>
<rect x="344.9" y="556.8" width="16.100000000000023" height="30.40000000000009" fill="#000"/>
<text x="345.2" y="586" font-size="31" font-weight="normal" fill="#fff" font-family="Liberation Sans">f</text>
<text x="341.5" y="721.3" font-size="9.3" font-weight="bold" fill="#333" text-anchor="end" >0</text>
<text x="341.5" y="674.5" font-size="9.3" font-weight="bold" fill="#333" text-anchor="end" >50</text>
<text x="341.5" y="627.6999999999999" font-size="9.3" font-weight="bold" fill="#333" text-anchor="end" >100</text>
<text x="341.5" y="580.9" font-size="9.3" font-weight="bold" fill="#333" text-anchor="end" >150</text>
<text x="341.5" y="534.0999999999999" font-size="9.3" font-weight="bold" fill="#333" text-anchor="end" >200</text>
<text x="470.4" y="727.8" font-size="10.1" font-weight="bold" fill="#333" text-anchor="middle" >Electrocatalyst</text>
<text x="0" y="0" font-size="10.1" font-weight="bold" fill="#333" text-anchor="middle" transform="translate(319.6 620.6) rotate(-90)">Overpotential(mV)</text>
</g>
</svg></body></html>
